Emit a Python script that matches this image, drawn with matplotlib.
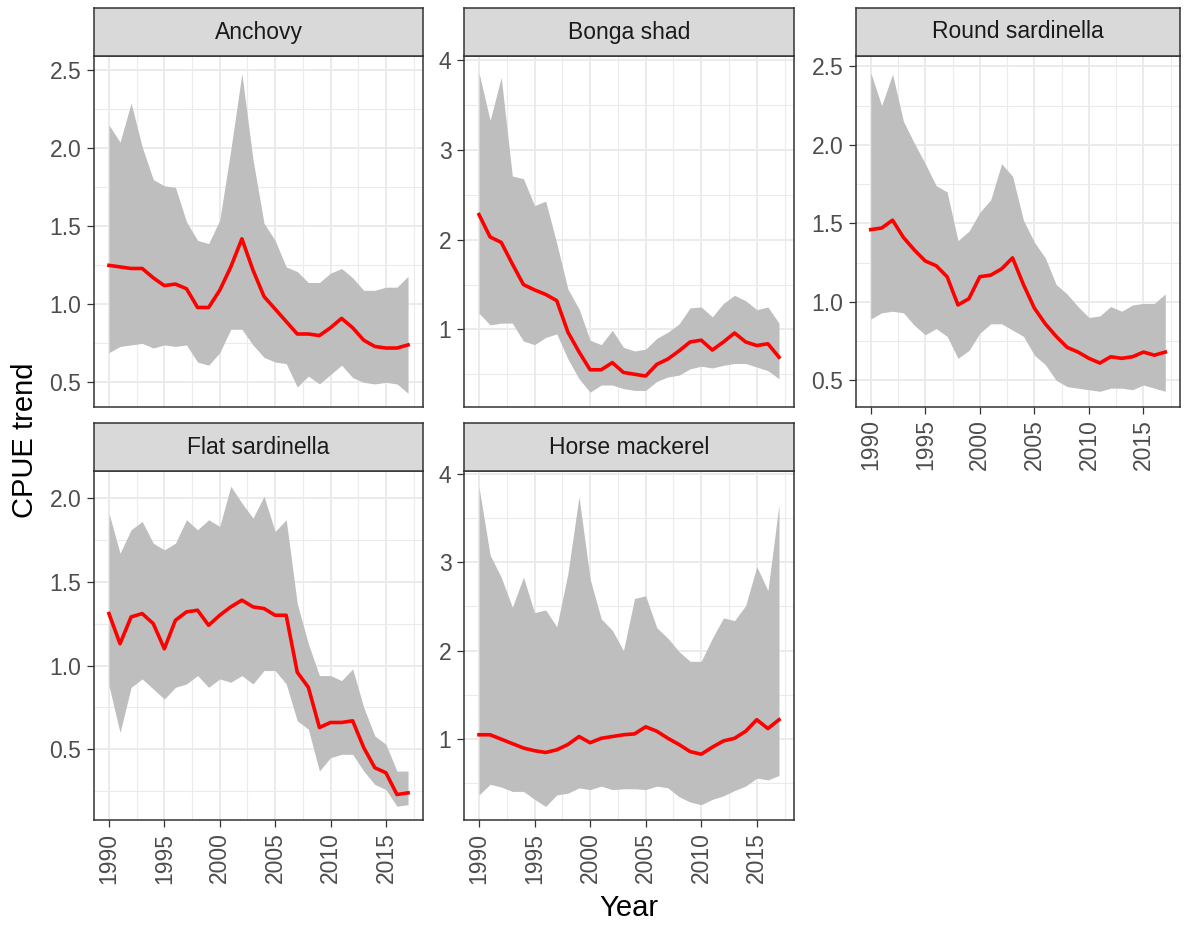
import numpy as np
import matplotlib
matplotlib.use("Agg")
from matplotlib import pyplot as plt
from matplotlib.ticker import MultipleLocator, FormatStrFormatter

plt.rcParams['font.family'] = ['Liberation Sans', 'DejaVu Sans']

years = np.arange(1990, 2018)

anchovy_mid = [1.25, 1.24, 1.23, 1.23, 1.17, 1.12, 1.13, 1.10, 0.98, 0.98,
               1.09, 1.24, 1.42, 1.22, 1.05, 0.97, 0.89, 0.81, 0.81, 0.80,
               0.85, 0.91, 0.85, 0.77, 0.73, 0.72, 0.72, 0.74]
anchovy_hi = [2.15, 2.04, 2.29, 2.01, 1.80, 1.76, 1.75, 1.53, 1.41, 1.39,
              1.54, 1.99, 2.48, 1.93, 1.52, 1.41, 1.24, 1.21, 1.14, 1.14,
              1.20, 1.23, 1.17, 1.09, 1.09, 1.11, 1.11, 1.18]
anchovy_lo = [0.69, 0.73, 0.74, 0.75, 0.72, 0.74, 0.73, 0.74, 0.63, 0.61,
              0.69, 0.84, 0.84, 0.74, 0.66, 0.63, 0.62, 0.47, 0.54, 0.49,
              0.55, 0.61, 0.53, 0.50, 0.49, 0.50, 0.49, 0.43]

bonga_mid = [2.28, 2.03, 1.97, 1.73, 1.50, 1.44, 1.39, 1.32, 0.97, 0.75,
             0.55, 0.55, 0.63, 0.52, 0.50, 0.48, 0.61, 0.67, 0.76, 0.86,
             0.88, 0.77, 0.86, 0.96, 0.86, 0.82, 0.84, 0.69]
bonga_hi = [3.86, 3.33, 3.81, 2.71, 2.68, 2.38, 2.43, 1.96, 1.45, 1.23,
            0.88, 0.83, 0.99, 0.80, 0.76, 0.78, 0.90, 0.97, 1.06, 1.24,
            1.25, 1.14, 1.29, 1.38, 1.32, 1.22, 1.25, 1.07]
bonga_lo = [1.18, 1.05, 1.07, 1.07, 0.87, 0.83, 0.91, 0.95, 0.67, 0.45,
            0.30, 0.38, 0.38, 0.34, 0.32, 0.32, 0.42, 0.47, 0.49, 0.56,
            0.59, 0.57, 0.60, 0.62, 0.62, 0.58, 0.54, 0.45]

round_mid = [1.46, 1.47, 1.52, 1.41, 1.33, 1.26, 1.23, 1.16, 0.98, 1.02,
             1.16, 1.17, 1.21, 1.28, 1.11, 0.96, 0.86, 0.78, 0.71, 0.68,
             0.64, 0.61, 0.65, 0.64, 0.65, 0.68, 0.66, 0.68]
round_hi = [2.46, 2.25, 2.45, 2.15, 2.01, 1.88, 1.74, 1.70, 1.39, 1.45,
            1.57, 1.65, 1.88, 1.80, 1.52, 1.38, 1.28, 1.11, 1.05, 0.97,
            0.90, 0.91, 0.97, 0.94, 0.98, 0.99, 0.99, 1.05]
round_lo = [0.89, 0.93, 0.94, 0.93, 0.85, 0.79, 0.83, 0.78, 0.64, 0.69,
            0.80, 0.86, 0.86, 0.82, 0.78, 0.66, 0.60, 0.50, 0.46, 0.45,
            0.44, 0.43, 0.45, 0.45, 0.44, 0.47, 0.45, 0.43]

flat_mid = [1.31, 1.13, 1.29, 1.31, 1.25, 1.10, 1.27, 1.32, 1.33, 1.24,
            1.30, 1.35, 1.39, 1.35, 1.34, 1.30, 1.30, 0.96, 0.87, 0.63,
            0.66, 0.66, 0.67, 0.51, 0.39, 0.36, 0.23, 0.24]
flat_hi = [1.91, 1.67, 1.81, 1.86, 1.73, 1.69, 1.73, 1.87, 1.81, 1.87,
           1.83, 2.07, 1.97, 1.88, 2.01, 1.80, 1.87, 1.37, 1.13, 0.94,
           0.94, 0.91, 0.98, 0.75, 0.58, 0.53, 0.37, 0.37]
flat_lo = [0.88, 0.60, 0.87, 0.92, 0.86, 0.80, 0.87, 0.89, 0.94, 0.87,
           0.92, 0.90, 0.94, 0.89, 0.97, 0.97, 0.89, 0.67, 0.62, 0.37,
           0.45, 0.47, 0.47, 0.37, 0.29, 0.26, 0.16, 0.17]

horse_mid = [1.05, 1.05, 1.00, 0.95, 0.90, 0.87, 0.85, 0.88, 0.94, 1.03,
             0.96, 1.01, 1.03, 1.05, 1.06, 1.14, 1.09, 1.01, 0.94, 0.86,
             0.83, 0.91, 0.98, 1.01, 1.09, 1.22, 1.12, 1.22]
horse_hi = [3.85, 3.08, 2.83, 2.49, 2.83, 2.43, 2.46, 2.27, 2.87, 3.74,
            2.81, 2.36, 2.23, 2.00, 2.59, 2.62, 2.26, 2.14, 1.99, 1.88,
            1.88, 2.14, 2.37, 2.34, 2.51, 2.95, 2.68, 3.65]
horse_lo = [0.37, 0.49, 0.46, 0.41, 0.41, 0.32, 0.24, 0.37, 0.39, 0.45,
            0.43, 0.47, 0.43, 0.44, 0.44, 0.43, 0.47, 0.45, 0.35, 0.29,
            0.26, 0.32, 0.36, 0.42, 0.47, 0.56, 0.54, 0.59]

species = ["Anchovy", "Bonga shad", "Round sardinella", "Flat sardinella", "Horse mackerel"]
mids = [anchovy_mid, bonga_mid, round_mid, flat_mid, horse_mid]
his = [anchovy_hi, bonga_hi, round_hi, flat_hi, horse_hi]
los = [anchovy_lo, bonga_lo, round_lo, flat_lo, horse_lo]

# panel layout in pixels: left, top, right, bottom
W, H = 1186, 926
boxes = [(94, 56, 423, 407), (464, 56, 794, 407), (856, 56, 1180, 407),
         (94, 471, 423, 820), (464, 471, 794, 820)]
strip_h = 48
ylims = [(0.342, 2.592), (0.135, 4.048), (0.330, 2.566), (0.078, 2.161), (0.087, 4.03)]
ysteps = [0.5, 1, 0.5, 0.5, 1]
yfmt = ["%.1f", "%d", "%.1f", "%.1f", "%d"]
show_x = [False, False, True, True, True]

fig = plt.figure(figsize=(W / 100, H / 100), dpi=100)
grey20 = "#333333"
grey30 = "#4D4D4D"
grid = "#EBEBEB"

for i in range(5):
    l, t, r, b = boxes[i]
    ax = fig.add_axes([l / W, 1 - b / H, (r - l) / W, (b - t) / H])
    ax.fill_between(years, los[i], his[i], color="#BEBEBE", lw=0, zorder=2)
    ax.plot(years, mids[i], color="red", lw=2.6, zorder=3)
    ax.set_xlim(1988.65, 2018.35)
    ax.set_ylim(*ylims[i])
    ax.xaxis.set_major_locator(MultipleLocator(5))
    ax.xaxis.set_minor_locator(MultipleLocator(2.5))
    ax.yaxis.set_major_locator(MultipleLocator(ysteps[i]))
    ax.yaxis.set_minor_locator(MultipleLocator(ysteps[i] / 2))
    ax.yaxis.set_major_formatter(FormatStrFormatter(yfmt[i]))
    ax.grid(which="major", color=grid, lw=1.4, zorder=0)
    ax.grid(which="minor", color=grid, lw=0.8, zorder=0)
    ax.set_axisbelow(True)
    for s in ax.spines.values():
        s.set_color(grey20)
        s.set_linewidth(1.1)
    ax.tick_params(which="major", length=5, width=0.9, color=grey20,
                   labelsize=16.5, labelcolor=grey30, pad=4)
    ax.tick_params(which="minor", length=0)
    if show_x[i]:
        plt.setp(ax.get_xticklabels(), rotation=90)
    else:
        ax.tick_params(axis="x", which="major", length=0, labelbottom=False)

    sax = fig.add_axes([l / W, 1 - t / H, (r - l) / W, strip_h / H])
    sax.set_facecolor("#D9D9D9")
    sax.set_xticks([])
    sax.set_yticks([])
    for s in sax.spines.values():
        s.set_color(grey20)
        s.set_linewidth(1.1)
    sax.text(0.5, 0.5, species[i], ha="center", va="center", fontsize=16.5,
             color="#1A1A1A", transform=sax.transAxes)

fig.text(25 / W, 1 - 440 / H, "CPUE trend", rotation=90, ha="center", va="center",
         fontsize=21, color="black")
fig.text(629 / W, 1 - 908 / H, "Year", ha="center", va="center",
         fontsize=21, color="black")

plt.savefig("out.png", dpi=100)
